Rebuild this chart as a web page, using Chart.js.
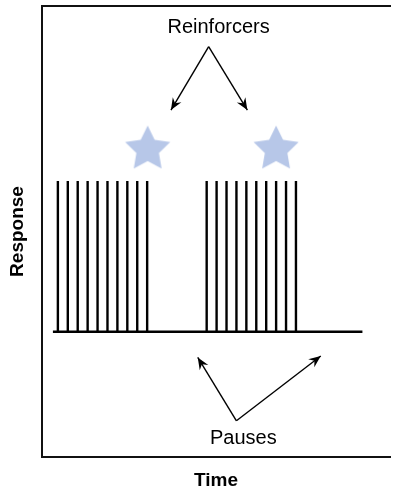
<!DOCTYPE html>
<html>
<head>
<meta charset="utf-8">
<script src="https://cdn.jsdelivr.net/npm/chart.js@4.4.1/dist/chart.umd.min.js"></script>
<style>
  html, body { margin: 0; padding: 0; background: #fff; }
  canvas { display: block; }
</style>
</head>
<body>
<canvas id="schema" width="394" height="490"></canvas>
<script>
// instants des réponses (en unités de temps) ; une réponse a une hauteur de 1
const premierBloc = [1, 2, 3, 4, 5, 6, 7, 8, 9, 10];
const secondBloc = [16, 17, 18, 19, 20, 21, 22, 23, 24, 25];
const hauteurReponse = 1;
const ligneDeBase = [0.5, 31.7];               // début / fin de l'enregistrement
const renforcateursX = [10.05, 23.0];           // position des étoiles
const renforcateursY = [1.21, 1.21];
const texteRenf = ['Reinforcers', 17.2, 2.02];
const flechesRenf = [[16.2, 1.89, 12.4, 1.47], [16.2, 1.89, 20.1, 1.47]];
const textePauses = ['Pauses', 19.7, -0.71];
const flechesPauses = [[19.0, -0.59, 15.1, -0.17], [19.0, -0.59, 27.5, -0.16]];

const police = '"Liberation Sans", Arial, Helvetica, sans-serif';

// étoile pleine à 5 branches, utilisée comme pointStyle
function dessineEtoile(rayon, couleur) {
  const c = document.createElement('canvas');
  c.width = Math.ceil(rayon * 2) + 2;
  c.height = Math.ceil(rayon * 2) + 2;
  const g = c.getContext('2d');
  const cx = c.width / 2, cy = c.height / 2;
  g.beginPath();
  for (let i = 0; i < 10; i++) {
    const r = i % 2 === 0 ? rayon : rayon * 0.5;
    const a = -Math.PI / 2 + i * Math.PI / 5;
    const px = cx + r * Math.cos(a), py = cy + r * Math.sin(a);
    if (i === 0) g.moveTo(px, py); else g.lineTo(px, py);
  }
  g.closePath();
  g.fillStyle = couleur;
  g.fill();
  return c;
}
const etoile = dessineEtoile(23.7, '#b7c7e8');

// une ligne verticale par réponse
const reponses = premierBloc.concat(secondBloc).map(t => ({
  type: 'line',
  data: [{ x: t, y: 0 }, { x: t, y: hauteurReponse }],
  borderColor: '#000',
  borderWidth: 2.4,
  pointRadius: 0
}));

// flèches : un segment, la pointe est ajoutée par le plugin
const fleches = flechesRenf.concat(flechesPauses).map(f => ({
  type: 'line',
  fleche: true,
  data: [{ x: f[0], y: f[1] }, { x: f[2], y: f[3] }],
  borderColor: '#000',
  borderWidth: 1.4,
  pointRadius: 0
}));

const pointesEtTextes = {
  id: 'pointesEtTextes',
  afterDatasetsDraw(chart) {
    const ctx = chart.ctx;
    const sx = chart.scales.x, sy = chart.scales.y;
    chart.data.datasets.forEach((ds, i) => {
      if (!ds.fleche) return;
      const pts = chart.getDatasetMeta(i).data;
      const a = pts[pts.length - 2], b = pts[pts.length - 1];
      const ang = Math.atan2(b.y - a.y, b.x - a.x);
      ctx.save();
      ctx.translate(b.x, b.y);
      ctx.rotate(ang);
      ctx.beginPath();
      ctx.moveTo(0, 0);
      ctx.lineTo(-12, -5);
      ctx.lineTo(-8, 0);
      ctx.lineTo(-12, 5);
      ctx.closePath();
      ctx.fillStyle = '#000';
      ctx.fill();
      ctx.restore();
    });
    ctx.save();
    ctx.fillStyle = '#000';
    ctx.font = '20px ' + police;
    ctx.textAlign = 'center';
    ctx.textBaseline = 'middle';
    [texteRenf, textePauses].forEach(t => {
      ctx.fillText(t[0], sx.getPixelForValue(t[1]), sy.getPixelForValue(t[2]));
    });
    ctx.restore();
  }
};

new Chart(document.getElementById('schema').getContext('2d'), {
  type: 'scatter',
  data: {
    datasets: [
      {
        type: 'line',
        data: ligneDeBase.map(x => ({ x: x, y: 0 })),
        borderColor: '#000',
        borderWidth: 2.4,
        pointRadius: 0
      },
      ...reponses,
      ...fleches,
      {
        // petit rayon : l'image de l'étoile est dessinée à sa taille propre
        data: renforcateursX.map((x, i) => ({ x: x, y: renforcateursY[i] })),
        pointStyle: etoile,
        pointRadius: 1,
        pointBorderWidth: 0,
        clip: false
      }
    ]
  },
  options: {
    responsive: false,
    animation: false,
    layout: { padding: 0 },
    plugins: {
      legend: { display: false },
      tooltip: { enabled: false }
    },
    scales: {
      x: {
        type: 'linear',
        position: 'bottom',
        min: -0.6,
        max: 34.48,
        ticks: { display: false },
        grid: { display: false },
        border: { display: true, color: '#111', width: 2 },
        title: {
          display: true,
          text: 'Time',
          color: '#000',
          font: { family: police, size: 19, weight: 'bold', lineHeight: 1 },
          padding: { top: 0, bottom: 0 }
        },
        afterFit: s => { s.height = 33; }
      },
      haut: {
        type: 'linear',
        position: 'top',
        min: 0,
        max: 1,
        ticks: { display: false },
        grid: { display: false },
        border: { display: true, color: '#111', width: 2 },
        afterFit: s => { s.height = 6; }
      },
      y: {
        type: 'linear',
        min: -0.83,
        max: 2.16,
        ticks: { display: false },
        grid: { display: false },
        border: { display: true, color: '#111', width: 2 },
        title: {
          display: true,
          text: 'Response',
          color: '#000',
          font: { family: police, size: 19, weight: 'bold', lineHeight: 1 },
          padding: { top: 8, bottom: 0 }
        },
        afterFit: s => { s.width = 42; }
      }
    }
  },
  plugins: [pointesEtTextes]
});
</script>
</body>
</html>
